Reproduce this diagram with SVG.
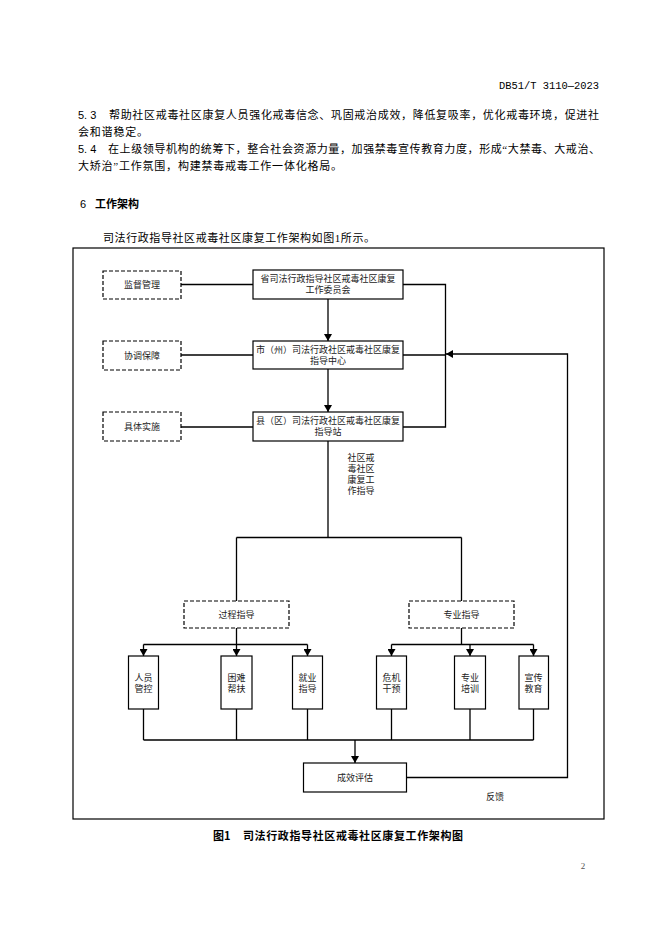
<svg xmlns="http://www.w3.org/2000/svg" width="662" height="936" viewBox="0 0 662 936">
<defs>
<marker id="ah" markerUnits="userSpaceOnUse" markerWidth="8" markerHeight="8" refX="7" refY="4" orient="auto">
<path d="M0,0 L7,4 L0,8 Z" fill="#000"/>
</marker>
<style>
.body{font-family:"Liberation Serif","Noto Sans CJK SC",serif;font-size:11px;fill:#000}
.hd{font-family:"Liberation Mono","Noto Sans CJK SC",monospace;font-size:10.5px;fill:#000}
.bold{font-family:"Noto Sans CJK SC",sans-serif;font-size:11px;font-weight:bold;fill:#000}
.t{font-family:"Liberation Serif","Noto Sans CJK SC",serif;font-size:9px;fill:#222;text-anchor:middle}
.box{fill:#fff;stroke:#000;stroke-width:1.2}
.dbox{fill:#fff;stroke:#000;stroke-width:1.2;stroke-dasharray:4 2}
.ln{fill:none;stroke:#000;stroke-width:1.3}
</style>
</defs>
<rect width="662" height="936" fill="#fff"/>

<text class="hd" x="599" y="89" text-anchor="end" textLength="100" lengthAdjust="spacingAndGlyphs">DB51/T 3110—2023</text>

<text class="body" x="78" y="119" style="font-family:'Liberation Sans','Noto Sans CJK SC',sans-serif">5. 3</text>
<text class="body" x="109" y="119" textLength="490" lengthAdjust="spacing">帮助社区戒毒社区康复人员强化戒毒信念、巩固戒治成效，降低复吸率，优化戒毒环境，促进社</text>
<text class="body" x="78" y="136" textLength="70" lengthAdjust="spacing">会和谐稳定。</text>
<text class="body" x="78" y="153" style="font-family:'Liberation Sans','Noto Sans CJK SC',sans-serif">5. 4</text>
<text class="body" x="108" y="153" textLength="492" lengthAdjust="spacing">在上级领导机构的统筹下，整合社会资源力量，加强禁毒宣传教育力度，形成“大禁毒、大戒治、</text>
<text class="body" x="78" y="170" textLength="264" lengthAdjust="spacing">大矫治”工作氛围，构建禁毒戒毒工作一体化格局。</text>

<text class="body" x="80" y="208" style="font-family:'Liberation Sans',sans-serif">6</text>
<text class="bold" x="95" y="208">工作架构</text>

<text class="body" x="103" y="242" textLength="272" lengthAdjust="spacing">司法行政指导社区戒毒社区康复工作架构如图1所示。</text>

<rect x="73" y="248" width="531" height="571" fill="none" stroke="#000" stroke-width="1.2"/>

<g id="connectors">
<path class="ln" d="M181,284.5 H253"/>
<path class="ln" d="M181,355 H253"/>
<path class="ln" d="M181,427 H253"/>
<path class="ln" d="M403,284.5 H445.5 V427 H403"/>
<path class="ln" d="M403,355 H445.5"/>
<path class="ln" d="M328,299 V341" marker-end="url(#ah)"/>
<path class="ln" d="M328,369 V412" marker-end="url(#ah)"/>
<path class="ln" d="M328,441 V537.5 M236.5,537.5 H461.5 M236.5,537.5 V601 M461.5,537.5 V601"/>
<path class="ln" d="M236.5,628 V644.5 M143.5,644.5 H307.5 M461.5,628 V644.5 M391.5,644.5 H533.5"/>
<path class="ln" d="M143.5,644.5 V656" marker-end="url(#ah)"/>
<path class="ln" d="M236.5,644.5 V656" marker-end="url(#ah)"/>
<path class="ln" d="M307.5,644.5 V656" marker-end="url(#ah)"/>
<path class="ln" d="M391.5,644.5 V656" marker-end="url(#ah)"/>
<path class="ln" d="M470,644.5 V656" marker-end="url(#ah)"/>
<path class="ln" d="M533.5,644.5 V656" marker-end="url(#ah)"/>
<path class="ln" d="M143.5,709 V740 M236.5,709 V740 M307.5,709 V740 M391.5,709 V740 M470,709 V740 M533.5,709 V740 M143.5,740 H533.5"/>
<path class="ln" d="M355,740 V763" marker-end="url(#ah)"/>
<path class="ln" d="M407,777.5 H567.5 V354 H446" marker-end="url(#ah)"/>
</g>

<g id="n-jiandu"><rect class="dbox" x="103" y="271" width="78" height="28"/><text class="t" x="142" y="288">监督管理</text></g>
<g id="n-sheng"><rect class="box" x="253" y="270" width="150" height="29"/><text class="t" x="328" y="281.5">省司法行政指导社区戒毒社区康复</text><text class="t" x="328" y="292.5">工作委员会</text></g>
<g id="n-xietiao"><rect class="dbox" x="103" y="341" width="78" height="29"/><text class="t" x="142" y="358.5">协调保障</text></g>
<g id="n-shi"><rect class="box" x="253" y="341" width="150" height="28"/><text class="t" x="328" y="352.5">市（州）司法行政社区戒毒社区康复</text><text class="t" x="328" y="364">指导中心</text></g>
<g id="n-juti"><rect class="dbox" x="103" y="412" width="78" height="29"/><text class="t" x="142" y="429.5">具体实施</text></g>
<g id="n-xian"><rect class="box" x="253" y="412" width="150" height="29"/><text class="t" x="328" y="424">县（区）司法行政社区戒毒社区康复</text><text class="t" x="328" y="435">指导站</text></g>

<g id="l-zhidao">
<text class="t" x="361" y="460.5">社区戒</text>
<text class="t" x="361" y="471.5">毒社区</text>
<text class="t" x="361" y="482.5">康复工</text>
<text class="t" x="361" y="494">作指导</text>
</g>

<g id="n-guocheng"><rect class="dbox" x="184" y="601" width="105" height="27"/><text class="t" x="236.5" y="617.5">过程指导</text></g>
<g id="n-zhuanye"><rect class="dbox" x="409" y="601" width="105" height="27"/><text class="t" x="461.5" y="617.5">专业指导</text></g>

<g id="n-renyuan"><rect class="box" x="128.5" y="656" width="30" height="53"/><text class="t" x="143.5" y="680.5">人员</text><text class="t" x="143.5" y="692">管控</text></g>
<g id="n-kunnan"><rect class="box" x="221" y="656" width="31" height="53"/><text class="t" x="236.5" y="680.5">困难</text><text class="t" x="236.5" y="692">帮扶</text></g>
<g id="n-jiuye"><rect class="box" x="292.5" y="656" width="30" height="53"/><text class="t" x="307.5" y="680.5">就业</text><text class="t" x="307.5" y="692">指导</text></g>
<g id="n-weiji"><rect class="box" x="376.5" y="656" width="30" height="53"/><text class="t" x="391.5" y="680.5">危机</text><text class="t" x="391.5" y="692">干预</text></g>
<g id="n-peixun"><rect class="box" x="454.5" y="656" width="31" height="53"/><text class="t" x="470" y="680.5">专业</text><text class="t" x="470" y="692">培训</text></g>
<g id="n-xuanchuan"><rect class="box" x="519" y="656" width="29.5" height="53"/><text class="t" x="533.5" y="680.5">宣传</text><text class="t" x="533.5" y="692">教育</text></g>

<g id="n-pinggu"><rect class="box" x="303.5" y="763" width="103" height="29"/><text class="t" x="355" y="780.5">成效评估</text></g>
<text class="t" x="495" y="799.5">反馈</text>

<text class="bold" x="213" y="840">图1</text>
<text class="bold" x="243" y="840" textLength="220" lengthAdjust="spacing">司法行政指导社区戒毒社区康复工作架构图</text>

<text class="body" x="583" y="869" text-anchor="middle" style="font-size:9px;fill:#555">2</text>
</svg>
